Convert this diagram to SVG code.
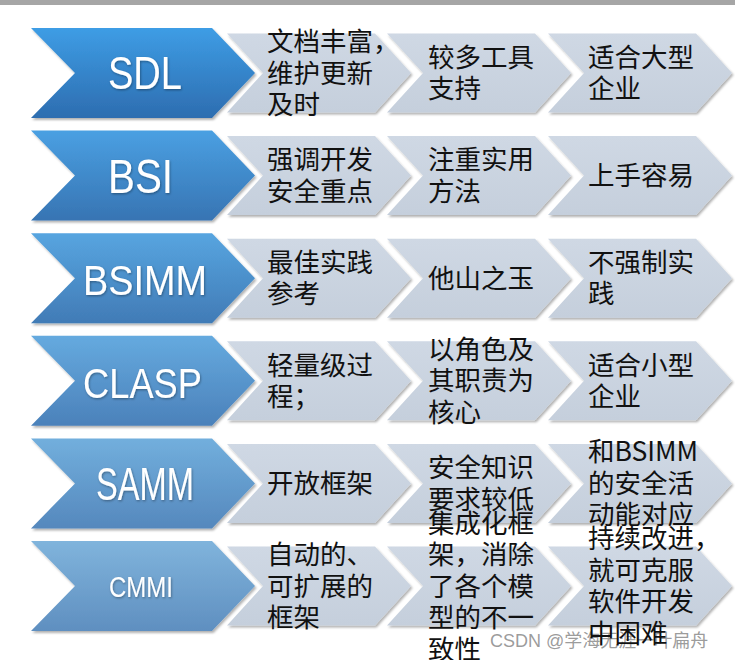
<svg xmlns="http://www.w3.org/2000/svg" xmlns:xlink="http://www.w3.org/1999/xlink" width="735" height="660" viewBox="0 0 735 660">
<defs>
<style>
.lbl{font-family:"Liberation Sans","DejaVu Sans",sans-serif;fill:#ffffff;filter:url(#tsh)}
.t{font-family:"Noto Sans CJK SC","Noto Sans CJK TC",sans-serif;font-size:26.5px;fill:#111111}
.gc{fill:url(#gg);filter:url(#sh)}
.bc{filter:url(#sh)}
.wm{font-family:"Liberation Sans","Noto Sans CJK SC",sans-serif;font-size:18px;fill:#8a8a8a;fill-opacity:0.85}
</style>
<filter id="sh" x="-10%" y="-10%" width="125%" height="130%">
<feDropShadow dx="1.5" dy="2" stdDeviation="1.3" flood-color="#000" flood-opacity="0.3"/>
</filter>
<filter id="tsh" x="-10%" y="-20%" width="130%" height="150%">
<feDropShadow dx="0.8" dy="1.2" stdDeviation="1" flood-color="#000" flood-opacity="0.35"/>
</filter>
<path id="bch" d="M0,0H181L224,45L181,90H0L44,45Z"/>
<path id="gch" d="M0,0H148L184,39.5L148,79H0L36,39.5Z"/>
<linearGradient id="gg" x1="0" y1="0" x2="0" y2="1"><stop offset="0" stop-color="#cfd8e4"/><stop offset="1" stop-color="#c5cfdc"/></linearGradient>
<linearGradient id="b0" x1="0" y1="0" x2="0" y2="1"><stop offset="0" stop-color="#3e9de5"/><stop offset="1" stop-color="#2d6db0"/></linearGradient>
<linearGradient id="b1" x1="0" y1="0" x2="0" y2="1"><stop offset="0" stop-color="#4aa0e2"/><stop offset="1" stop-color="#3774b3"/></linearGradient>
<linearGradient id="b2" x1="0" y1="0" x2="0" y2="1"><stop offset="0" stop-color="#57a5e0"/><stop offset="1" stop-color="#417bb6"/></linearGradient>
<linearGradient id="b3" x1="0" y1="0" x2="0" y2="1"><stop offset="0" stop-color="#65aadf"/><stop offset="1" stop-color="#4b81ba"/></linearGradient>
<linearGradient id="b4" x1="0" y1="0" x2="0" y2="1"><stop offset="0" stop-color="#72afdd"/><stop offset="1" stop-color="#5588bd"/></linearGradient>
<linearGradient id="b5" x1="0" y1="0" x2="0" y2="1"><stop offset="0" stop-color="#80b4dc"/><stop offset="1" stop-color="#5f8fc0"/></linearGradient>
</defs>
<rect x="0" y="0" width="735" height="5" fill="#a6a6a6"/>
<g id="connectors"/>

<!-- Row 1 -->
<g id="sdl"><use xlink:href="#bch" href="#bch" x="31" y="28" class="bc" fill="url(#b0)"/><text class="lbl" x="108" y="89" font-size="47" textLength="74" lengthAdjust="spacingAndGlyphs">SDL</text></g>
<g id="sdl-1"><use xlink:href="#gch" href="#gch" x="227" y="33.5" class="gc"/><text class="t"><tspan x="267" y="51">文档丰富，</tspan><tspan x="267" y="82.5">维护更新</tspan><tspan x="267" y="114">及时</tspan></text></g>
<g id="sdl-2"><use xlink:href="#gch" href="#gch" x="387" y="33.5" class="gc"/><text class="t"><tspan x="428" y="66.75">较多工具</tspan><tspan x="428" y="98.25">支持</tspan></text></g>
<g id="sdl-3"><use xlink:href="#gch" href="#gch" x="548" y="33.5" class="gc"/><text class="t"><tspan x="588" y="66.75">适合大型</tspan><tspan x="588" y="98.25">企业</tspan></text></g>

<!-- Row 2 -->
<g id="bsi"><use xlink:href="#bch" href="#bch" x="31" y="130.6" class="bc" fill="url(#b1)"/><text class="lbl" x="108" y="193" font-size="48" textLength="65" lengthAdjust="spacingAndGlyphs">BSI</text></g>
<g id="bsi-1"><use xlink:href="#gch" href="#gch" x="227" y="136.1" class="gc"/><text class="t"><tspan x="267" y="169.35">强调开发</tspan><tspan x="267" y="200.85">安全重点</tspan></text></g>
<g id="bsi-2"><use xlink:href="#gch" href="#gch" x="387" y="136.1" class="gc"/><text class="t"><tspan x="428" y="169.35">注重实用</tspan><tspan x="428" y="200.85">方法</tspan></text></g>
<g id="bsi-3"><use xlink:href="#gch" href="#gch" x="548" y="136.1" class="gc"/><text class="t"><tspan x="588" y="185.1">上手容易</tspan></text></g>

<!-- Row 3 -->
<g id="bsimm"><use xlink:href="#bch" href="#bch" x="31" y="233.2" class="bc" fill="url(#b2)"/><text class="lbl" x="83" y="295" font-size="42" textLength="124" lengthAdjust="spacingAndGlyphs">BSIMM</text></g>
<g id="bsimm-1"><use xlink:href="#gch" href="#gch" x="227" y="238.7" class="gc"/><text class="t"><tspan x="267" y="271.95">最佳实践</tspan><tspan x="267" y="303.45">参考</tspan></text></g>
<g id="bsimm-2"><use xlink:href="#gch" href="#gch" x="387" y="238.7" class="gc"/><text class="t"><tspan x="428" y="287.7">他山之玉</tspan></text></g>
<g id="bsimm-3"><use xlink:href="#gch" href="#gch" x="548" y="238.7" class="gc"/><text class="t"><tspan x="588" y="271.95">不强制实</tspan><tspan x="588" y="303.45">践</tspan></text></g>

<!-- Row 4 -->
<g id="clasp"><use xlink:href="#bch" href="#bch" x="31" y="335.8" class="bc" fill="url(#b3)"/><text class="lbl" x="83" y="398" font-size="43" textLength="119" lengthAdjust="spacingAndGlyphs">CLASP</text></g>
<g id="clasp-1"><use xlink:href="#gch" href="#gch" x="227" y="341.3" class="gc"/><text class="t"><tspan x="267" y="374.55">轻量级过</tspan><tspan x="267" y="406.05">程；</tspan></text></g>
<g id="clasp-2"><use xlink:href="#gch" href="#gch" x="387" y="341.3" class="gc"/><text class="t"><tspan x="428" y="358.8">以角色及</tspan><tspan x="428" y="390.3">其职责为</tspan><tspan x="428" y="421.8">核心</tspan></text></g>
<g id="clasp-3"><use xlink:href="#gch" href="#gch" x="548" y="341.3" class="gc"/><text class="t"><tspan x="588" y="374.55">适合小型</tspan><tspan x="588" y="406.05">企业</tspan></text></g>

<!-- Row 5 -->
<g id="samm"><use xlink:href="#bch" href="#bch" x="31" y="438.4" class="bc" fill="url(#b4)"/><text class="lbl" x="96" y="500" font-size="46" textLength="98" lengthAdjust="spacingAndGlyphs">SAMM</text></g>
<g id="samm-1"><use xlink:href="#gch" href="#gch" x="227" y="443.9" class="gc"/><text class="t"><tspan x="267" y="492.9">开放框架</tspan></text></g>
<g id="samm-2"><use xlink:href="#gch" href="#gch" x="387" y="443.9" class="gc"/></g>
<g id="samm-3"><use xlink:href="#gch" href="#gch" x="548" y="443.9" class="gc"/></g>

<!-- Row 6 -->
<g id="cmmi"><use xlink:href="#bch" href="#bch" x="31" y="541" class="bc" fill="url(#b5)"/><text class="lbl" x="109" y="597" font-size="29" textLength="64" lengthAdjust="spacingAndGlyphs">CMMI</text></g>
<g id="cmmi-1"><use xlink:href="#gch" href="#gch" x="227" y="546.5" class="gc"/><text class="t"><tspan x="267" y="564">自动的、</tspan><tspan x="267" y="595.5">可扩展的</tspan><tspan x="267" y="627">框架</tspan></text></g>
<g id="cmmi-2"><use xlink:href="#gch" href="#gch" x="387" y="546.5" class="gc"/></g>
<g id="cmmi-3"><use xlink:href="#gch" href="#gch" x="548" y="546.5" class="gc"/></g>

<text class="wm" x="490" y="647">CSDN @学海无涯一叶扁舟</text>

<!-- overflowing texts drawn on top -->
<g id="samm-2-text"><text class="t"><tspan x="428" y="477.15">安全知识</tspan><tspan x="428" y="508.65">要求较低</tspan></text></g>
<g id="samm-3-text"><text class="t"><tspan x="588" y="461.4">和BSIMM</tspan><tspan x="588" y="492.9">的安全活</tspan><tspan x="588" y="524.4">动能对应</tspan></text></g>
<g id="cmmi-2-text"><text class="t"><tspan x="428" y="532.5">集成化框</tspan><tspan x="428" y="564">架，消除</tspan><tspan x="428" y="595.5">了各个模</tspan><tspan x="428" y="627">型的不一</tspan><tspan x="428" y="658.5">致性</tspan></text></g>
<g id="cmmi-3-text"><text class="t"><tspan x="588" y="548.25">持续改进，</tspan><tspan x="588" y="579.75">就可克服</tspan><tspan x="588" y="611.25">软件开发</tspan><tspan x="588" y="642.75">中困难</tspan></text></g>
</svg>
